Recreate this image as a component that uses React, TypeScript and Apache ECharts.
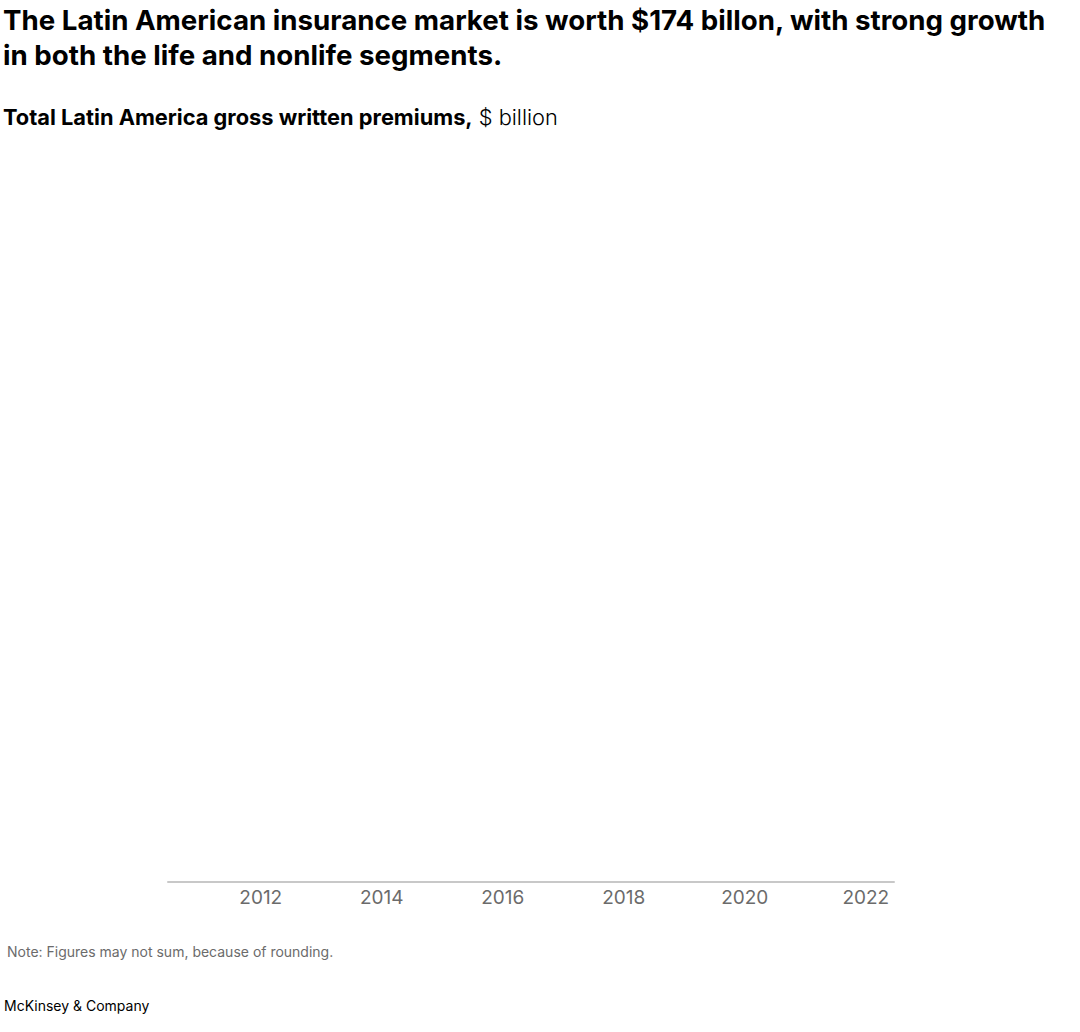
// Latin America gross written premiums — empty bar frame with year axis, McKinsey style.
import * as React from "react";
import * as echarts from "echarts";

const FONT = "Inter, 'Noto Sans', sans-serif";

const TITLE_LINES = [
  "The Latin American insurance market is worth $174 billon, with strong growth",
  "in both the life and nonlife segments.",
];
const SUBTITLE_BOLD = "Total Latin America gross written premiums,";
const SUBTITLE_UNIT = " $ billion";
const NOTE = "Note: Figures may not sum, because of rounding.";
const SOURCE = "McKinsey & Company";

// category years; only even years carry a tick label
const years = ["2011", "2012", "2013", "2014", "2015", "2016", "2017", "2018", "2019", "2020", "2021", "2022"];
// no bars are drawn in the reference
const lifeValues: number[] = [];
const nonlifeValues: number[] = [];

export default function App() {
  const ref = React.useRef<HTMLDivElement | null>(null);

  React.useEffect(() => {
    document.body.style.margin = "0";
    if (!ref.current) return;
    const chart = echarts.init(ref.current, undefined, { renderer: "svg" });
    chart.setOption({
      animation: false,
      backgroundColor: "#fff",
      textStyle: { fontFamily: FONT },
      grid: { left: 168, right: 186, top: 160, bottom: 150 },
      xAxis: {
        type: "category",
        data: years,
        axisLine: { show: true, lineStyle: { color: "#c8c8c8", width: 2 } },
        axisTick: { show: false },
        axisLabel: {
          interval: (i: number) => Number(years[i]) % 2 === 0,
          color: "#6b6b6b",
          fontSize: 19,
          fontFamily: FONT,
          margin: 6,
          padding: [0, 0, 0, 4],
        },
      },
      yAxis: { type: "value", min: 0, max: 200, show: false, splitLine: { show: false } },
      series: [
        { name: "Life", type: "bar", stack: "t", data: lifeValues },
        { name: "Nonlife", type: "bar", stack: "t", data: nonlifeValues },
      ],
      graphic: [
        ...TITLE_LINES.map((t, i) => ({
          type: "text",
          left: 3,
          top: 6 + i * 35,
          style: { text: t, fontSize: 27.7, fontWeight: "bold", fontFamily: FONT, fill: "#000" },
        })),
        {
          type: "text",
          left: 3,
          top: 106,
          style: {
            text: `{b|${SUBTITLE_BOLD}}{r|${SUBTITLE_UNIT}}`,
            rich: {
              b: { fontSize: 21.8, fontWeight: "bold", fontFamily: FONT, fill: "#000" },
              r: { fontSize: 21.8, fontWeight: 300, fontFamily: FONT, fill: "#000" },
            },
          },
        },
        {
          type: "text",
          left: 7,
          top: 944,
          style: { text: NOTE, fontSize: 14, fontFamily: FONT, fill: "#6b6b6b" },
        },
        {
          type: "text",
          left: 4,
          top: 998,
          style: { text: SOURCE, fontSize: 14, fontFamily: FONT, fill: "#000" },
        },
      ],
    });
    return () => chart.dispose();
  }, []);

  return <div ref={ref} style={{ width: 1080, height: 1032 }} />;
}
